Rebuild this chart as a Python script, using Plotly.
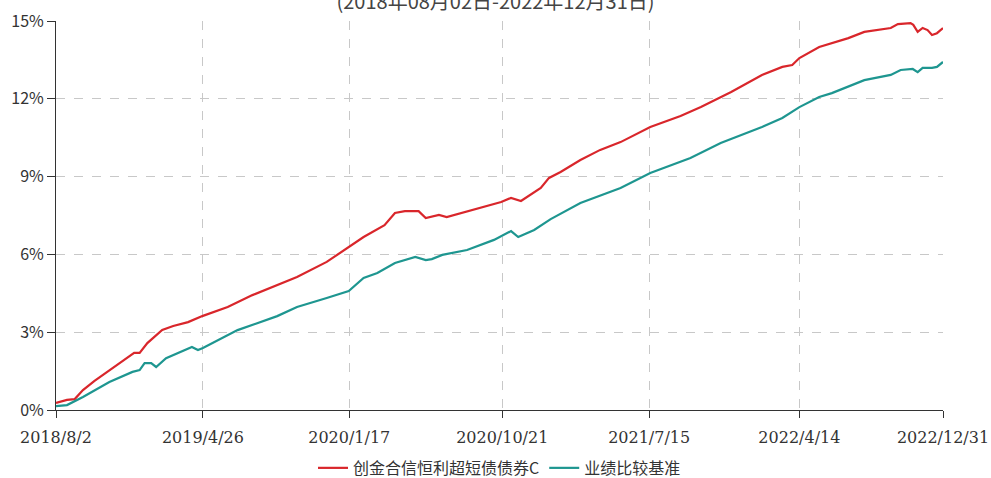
import plotly.graph_objects as go

fund_dates = ["2018-08-02","2018-08-22","2018-09-05","2018-09-20","2018-10-11","2018-11-07","2018-12-04",
              "2018-12-22","2019-01-01","2019-01-15","2019-02-11","2019-03-03","2019-03-30","2019-04-26",
              "2019-06-10","2019-07-25","2019-09-08","2019-10-14","2019-12-07","2020-01-12","2020-02-12",
              "2020-03-21","2020-04-09","2020-04-27","2020-05-22","2020-06-04","2020-06-28","2020-07-12",
              "2020-08-29","2020-10-19","2020-11-06","2020-11-24","2020-12-30","2021-01-14","2021-02-04",
              "2021-03-12","2021-04-17","2021-05-24","2021-07-17","2021-09-10","2021-10-17","2021-12-11",
              "2022-02-05","2022-03-14","2022-04-01","2022-04-14","2022-05-20","2022-06-12","2022-07-12",
              "2022-08-10","2022-09-27","2022-10-10","2022-11-02","2022-11-07","2022-11-15","2022-11-24",
              "2022-12-03","2022-12-11","2022-12-20","2022-12-31"]
fund_values = [0.27,0.39,0.42,0.77,1.12,1.54,1.93,
               2.20,2.20,2.58,3.09,3.24,3.39,3.63,
               3.97,4.43,4.82,5.13,5.71,6.21,6.67,
               7.13,7.60,7.67,7.67,7.40,7.52,7.44,
               7.71,8.02,8.18,8.06,8.56,8.95,9.18,
               9.64,10.03,10.33,10.91,11.34,11.68,12.26,
               12.92,13.23,13.30,13.57,14.00,14.15,14.34,
               14.58,14.73,14.88,14.92,14.85,14.58,14.73,
               14.65,14.46,14.53,14.73]

bench_dates = ["2018-08-02","2018-08-22","2018-09-20","2018-11-07","2018-12-19","2019-01-01","2019-01-10",
               "2019-01-22","2019-01-31","2019-02-18","2019-04-06","2019-04-17","2019-04-26","2019-06-28",
               "2019-09-08","2019-10-14","2019-12-07","2020-01-03","2020-01-16","2020-02-12","2020-03-08",
               "2020-04-09","2020-05-16","2020-06-04","2020-06-15","2020-07-04","2020-08-18","2020-10-06",
               "2020-11-06","2020-11-19","2020-12-18","2021-01-17","2021-03-12","2021-05-24","2021-07-17",
               "2021-09-28","2021-11-22","2022-02-05","2022-03-14","2022-04-14","2022-05-20","2022-06-12",
               "2022-08-10","2022-09-27","2022-10-15","2022-11-06","2022-11-15","2022-11-24","2022-12-11",
               "2022-12-20","2022-12-31"]
bench_values = [0.15,0.19,0.50,1.08,1.47,1.54,1.81,
                1.81,1.66,2.00,2.43,2.31,2.39,3.08,
                3.62,3.97,4.32,4.51,4.59,5.09,5.28,
                5.67,5.90,5.78,5.82,5.98,6.17,6.56,
                6.90,6.67,6.94,7.36,7.98,8.56,9.14,
                9.72,10.30,10.91,11.26,11.68,12.07,12.22,
                12.72,12.92,13.11,13.15,13.03,13.19,13.19,
                13.23,13.42]

x_tick_vals = ["2018-08-02","2019-04-26","2020-01-17","2020-10-21","2021-07-15","2022-04-14","2022-12-31"]
x_tick_text = ["2018/8/2","2019/4/26","2020/1/17","2020/10/21","2021/7/15","2022/4/14","2022/12/31"]
y_tick_vals = [0, 3, 6, 9, 12, 15]
y_tick_text = ["0%", "3%", "6%", "9%", "12%", "15%"]

series_names = ["创金合信恒利超短债债券C", "业绩比较基准"]
title_text = "(2018年08月02日-2022年12月31日)"

font_family = "Noto Sans CJK SC, Noto Sans, sans-serif"

fig = go.Figure()
fig.add_trace(go.Scatter(x=fund_dates, y=fund_values, mode="lines", name=series_names[0],
                         line=dict(color="#d9262b", width=2.2)))
fig.add_trace(go.Scatter(x=bench_dates, y=bench_values, mode="lines", name=series_names[1],
                         line=dict(color="#1e9690", width=2.2)))

fig.update_layout(
    width=991, height=478,
    margin=dict(l=56, r=48, t=21, b=68, autoexpand=False),
    paper_bgcolor="white", plot_bgcolor="white",
    font=dict(family=font_family, size=14, color="#333333"),
    title=dict(text=title_text, x=0.5, xanchor="center", y=0.995, yanchor="middle",
               font=dict(size=20, color="#444444")),
    showlegend=True,
    legend=dict(orientation="h", x=0.5, xanchor="center",
                yref="container", y=0.021, yanchor="middle",
                font=dict(size=16, color="#333333"), itemwidth=30),
)
fig.update_xaxes(
    type="date", range=["2018-08-02", "2022-12-31"], automargin=False,
    tickvals=x_tick_vals, ticktext=x_tick_text,
    showline=True, linecolor="#333333", linewidth=1,
    ticks="outside", ticklen=7, tickcolor="#333333", ticklabelstandoff=6,
    showgrid=True, gridcolor="#c8c8c8", griddash="dash", gridwidth=1,
    tickfont=dict(family="DejaVu Serif, serif", size=16, color="#333333"),
    zeroline=False,
)
fig.update_yaxes(
    range=[0, 15], tickvals=y_tick_vals, ticktext=y_tick_text, automargin=False,
    showline=True, linecolor="#333333", linewidth=1,
    ticks="outside", ticklen=8, tickcolor="#333333",
    showgrid=True, gridcolor="#c8c8c8", griddash="dash", gridwidth=1,
    tickfont=dict(size=16, color="#333333"),
    zeroline=False,
)

fig.write_html("out.html", config={"displayModeBar": False},
               post_script="document.body.style.margin='0';document.body.style.overflow='hidden';")
